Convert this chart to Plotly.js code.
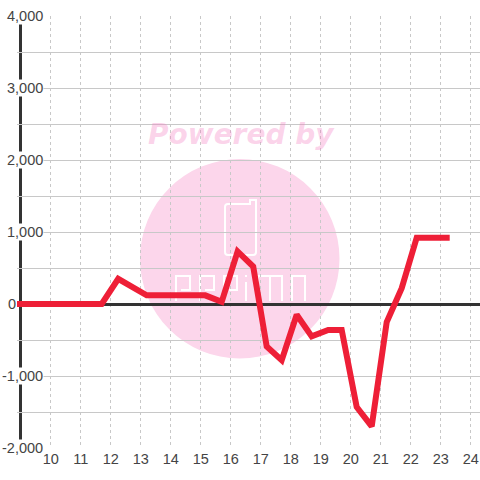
<!DOCTYPE html>
<html>
<head>
<meta charset="utf-8">
<script src="https://cdn.plot.ly/plotly-3.0.1.min.js"></script>
<style>html,body{margin:0;padding:0;background:#fff;}#chart{width:480px;height:480px;}</style>
</head>
<body>
<div id="chart"></div>
<script>
// ---- data ----
const hours = [8.85, 11.7, 12.25, 13.2, 15.15, 15.7, 16.23, 16.75, 17.2, 17.7, 18.2, 18.7, 19.25, 19.7, 20.2, 20.7, 21.2, 21.7, 22.2, 23.3];
const values = [0, 0, 350, 120, 120, 30, 730, 520, -590, -780, -150, -450, -360, -360, -1430, -1700, -250, 220, 920, 920];
const yTickValues = [4000, 3000, 2000, 1000, 0, -1000, -2000];
const xTickValues = [10, 11, 12, 13, 14, 15, 16, 17, 18, 19, 20, 21, 22, 23, 24];
const watermarkText = 'Powered by';

// ---- layout helpers (pixel -> paper) ----
const L = 17, R = 480, T = 16, B = 448;
const px = p => (p - L) / (R - L);
const py = p => (B - p) / (B - T);
function pathPx(cmds) {
  // cmds: array of [letter, x, y, ...]
  return cmds.map(c => {
    const k = c[0];
    if (k === 'Z') return 'Z';
    const nums = [];
    for (let i = 1; i < c.length; i += 2) nums.push(px(c[i]).toFixed(5) + ',' + py(c[i + 1]).toFixed(5));
    return k + nums.join(' ');
  }).join(' ');
}

const fmt = v => (v < 0 ? '-' : '') + Math.abs(v).toLocaleString('en-US');

const labelFont = {family: 'Liberation Sans, Arial, sans-serif', size: 14.5, color: '#444'};

const annotations = yTickValues.map(v => ({
  xref: 'paper', yref: 'y',
  x: v === 0 ? px(7) : px(44),
  xanchor: v === 0 ? 'left' : 'right',
  y: v, yanchor: 'middle',
  text: fmt(v), showarrow: false,
  bgcolor: '#ffffff', borderpad: 0,
  font: labelFont
}));
annotations.push({
  xref: 'paper', yref: 'paper', x: px(241), y: py(134), xanchor: 'center', yanchor: 'middle',
  text: '<b><i>' + watermarkText + '</i></b>', showarrow: false,
  font: {family: 'DejaVu Sans, Verdana, sans-serif', size: 28, color: 'rgba(245,130,195,0.35)'}
});

const white = {color: '#ffffff', width: 2};
const shapes = [
  // watermark circle
  {type: 'circle', xref: 'paper', yref: 'paper', x0: px(140), x1: px(339.5), y0: py(358.5), y1: py(159), layer: 'below', fillcolor: '#fcd6eb', line: {width: 0}},
  // phone outline
  {type: 'path', xref: 'paper', yref: 'paper', layer: 'below', line: white,
   path: pathPx([['M',225,207],['Q',225,204,228,204],['L',250,204],['L',250,200],['L',256,200],['L',256,252],['Q',256,255,253,255],['L',228,255],['Q',225,255,225,252],['Z']])},
  // logo letters
  {type: 'path', xref: 'paper', yref: 'paper', layer: 'below', line: white,
   path: pathPx([['M',176,301],['L',176,276],['L',190,276],['L',190,290],['L',181,290]])},
  {type: 'path', xref: 'paper', yref: 'paper', layer: 'below', line: white,
   path: pathPx([['M',200,301],['L',200,276],['L',214,276],['L',214,290],['L',205,290]])},
  {type: 'path', xref: 'paper', yref: 'paper', layer: 'below', line: white,
   path: pathPx([['M',224,301],['L',224,276],['L',237,276],['L',237,290],['L',229,290]])},
  {type: 'path', xref: 'paper', yref: 'paper', layer: 'below', line: white,
   path: pathPx([['M',246,301],['L',246,282],['M',246,275],['L',246,277]])},
  {type: 'path', xref: 'paper', yref: 'paper', layer: 'below', line: white,
   path: pathPx([['M',258,301],['L',258,276],['L',282,276],['L',282,301],['M',270,276],['L',270,301]])},
  {type: 'path', xref: 'paper', yref: 'paper', layer: 'below', line: white,
   path: pathPx([['M',292,301],['L',292,276],['L',305,276],['L',305,301]])},
  // blank strip left of gridlines
  {type: 'rect', xref: 'paper', yref: 'paper', x0: 0, x1: px(45), y0: -0.002, y1: 1.002, layer: 'between', fillcolor: '#ffffff', line: {width: 0}},
  // y axis line
  {type: 'line', xref: 'paper', yref: 'paper', x0: px(20.5), x1: px(20.5), y0: 0, y1: 1, layer: 'between', line: {color: '#333333', width: 3}}
];

const trace = {
  x: hours, y: values, type: 'scatter', mode: 'lines',
  line: {color: '#ee1f37', width: 6},
  hoverinfo: 'skip'
};

const layout = {
  width: 480, height: 480,
  margin: {l: L, r: 480 - R, t: T, b: 480 - B},
  paper_bgcolor: '#ffffff', plot_bgcolor: '#ffffff',
  showlegend: false,
  xaxis: {
    range: [10 + (L - 50.7) / 30, 10 + (R - 50.7) / 30],
    tickvals: xTickValues, ticktext: xTickValues.map(String),
    showgrid: true, gridcolor: '#c8c8c8', gridwidth: 1, griddash: 'dot',
    zeroline: false, showline: false, ticks: '',
    tickfont: labelFont, fixedrange: true
  },
  yaxis: {
    range: [-2000, 4000], dtick: 500, tick0: 0,
    showgrid: true, gridcolor: '#c8c8c8', gridwidth: 1,
    zeroline: true, zerolinecolor: '#333333', zerolinewidth: 3,
    showline: false, showticklabels: false, ticks: '', fixedrange: true
  },
  annotations: annotations,
  shapes: shapes
};

Plotly.newPlot('chart', [trace], layout, {staticPlot: true, displayModeBar: false});
</script>
</body>
</html>
